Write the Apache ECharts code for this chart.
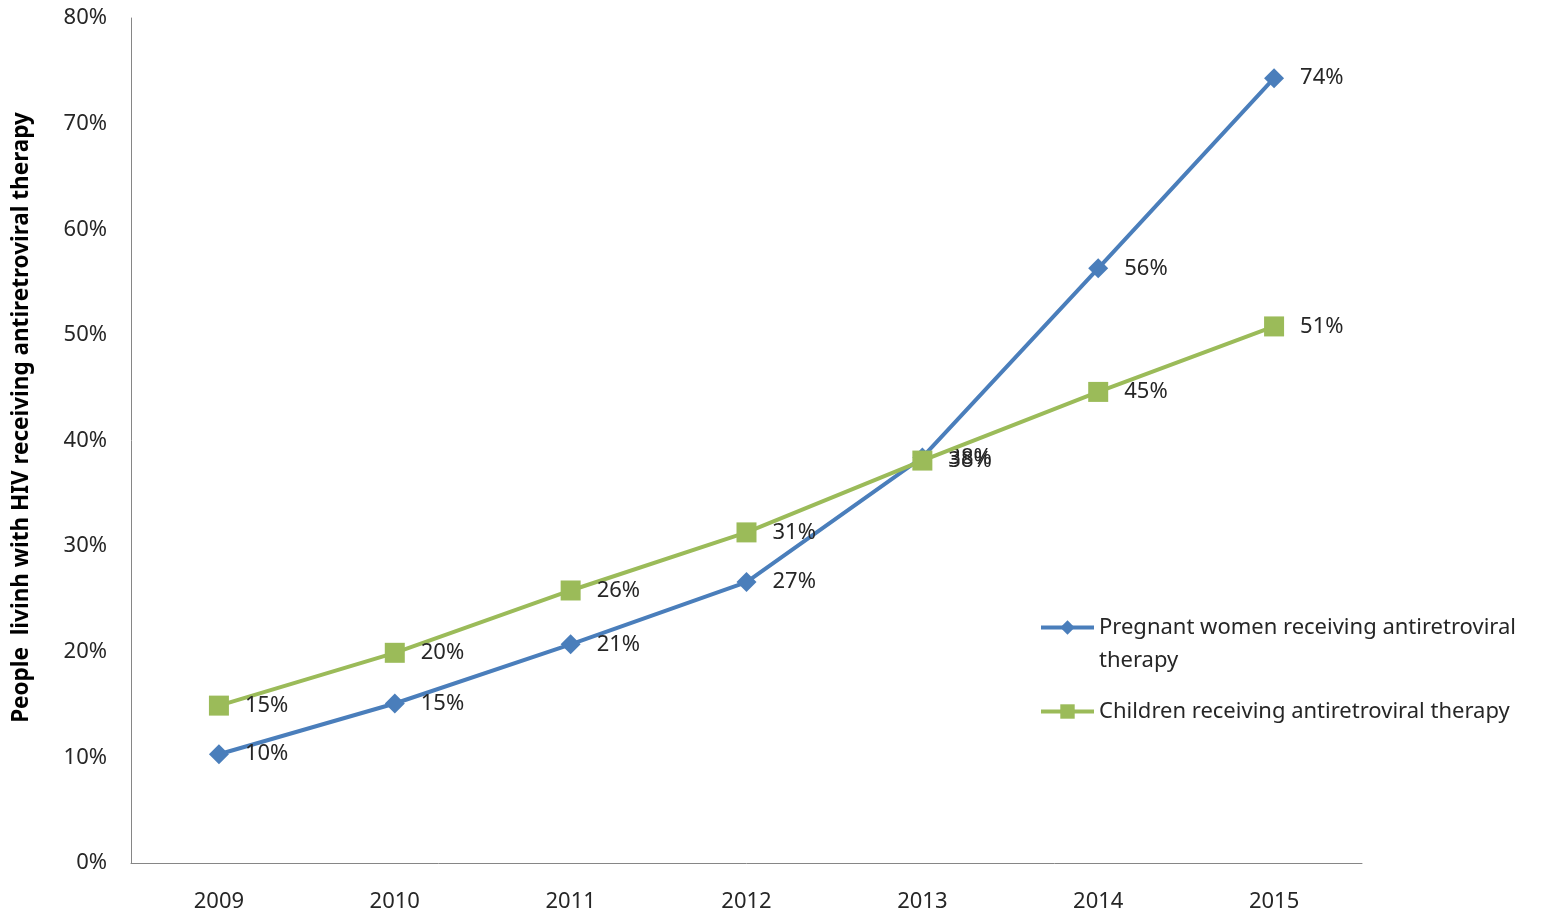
<!DOCTYPE html>
<html><head><meta charset="utf-8">
<script src="https://cdn.jsdelivr.net/npm/echarts@6/dist/echarts.min.js"></script>
<style>html,body{margin:0;padding:0;background:#fff}#c{width:1543px;height:913px}</style>
</head><body><div id="c"></div>
<script>
const years = ['2009','2010','2011','2012','2013','2014','2015'];
const pregnant = [10.3, 15.1, 20.7, 26.6, 38.4, 56.3, 74.3];
const children = [14.9, 19.9, 25.8, 31.3, 38.1, 44.6, 50.8];
const seriesNames = ['Pregnant women receiving antiretroviral therapy', 'Children receiving antiretroviral therapy'];
const legendText = ['\nPregnant women receiving antiretroviral\ntherapy', 'Children receiving antiretroviral therapy'];
const yAxisTitle = 'People  livinh with HIV receiving antiretroviral therapy';

const font = 'Noto Sans';
const chart = echarts.init(document.getElementById('c'));
const lbl = {
  show: true, position: 'right', distance: 16,
  fontFamily: font, fontSize: 22, color: '#262626',
  formatter: p => Math.round(p.value) + '%'
};
chart.setOption({
  animation: false,
  textStyle: {fontFamily: font},
  grid: {left: 131, right: 181, top: 18, bottom: 47},
  legend: {
    orient: 'vertical', left: 1039, top: 578, padding: 0,
    itemWidth: 53, itemHeight: 18, itemGap: 18,
    lineStyle: {width: 4},
    textStyle: {fontFamily: font, fontSize: 22, color: '#262626', lineHeight: 33},
    formatter: name => legendText[seriesNames.indexOf(name)],
    data: seriesNames
  },
  xAxis: {
    type: 'category', data: years, boundaryGap: true,
    axisLine: {lineStyle: {color: '#868686', width: 1}},
    axisTick: {show: false},
    axisLabel: {fontFamily: font, fontSize: 22, color: '#262626', margin: 28}
  },
  yAxis: {
    type: 'value', min: 0, max: 80, interval: 10,
    name: yAxisTitle, nameLocation: 'middle', nameGap: 98,
    nameTextStyle: {fontFamily: font, fontSize: 22.5, fontWeight: 'bold', color: '#000', padding: [0, 0, 0, 46]},
    axisLine: {show: true, lineStyle: {color: '#868686', width: 1}},
    axisTick: {show: false},
    splitLine: {show: false},
    axisLabel: {fontFamily: font, fontSize: 22, color: '#262626', margin: 24, formatter: v => v + '%'}
  },
  series: [
    {name: seriesNames[0], type: 'line', data: pregnant, symbol: 'diamond', symbolSize: 20,
     lineStyle: {color: '#4A7EBB', width: 4}, itemStyle: {color: '#4A7EBB'}, label: lbl, z: 2},
    {name: seriesNames[1], type: 'line', data: children, symbol: 'rect', symbolSize: 20,
     lineStyle: {color: '#9BBB59', width: 4}, itemStyle: {color: '#9BBB59'}, label: lbl, z: 3}
  ]
});
</script></body></html>
